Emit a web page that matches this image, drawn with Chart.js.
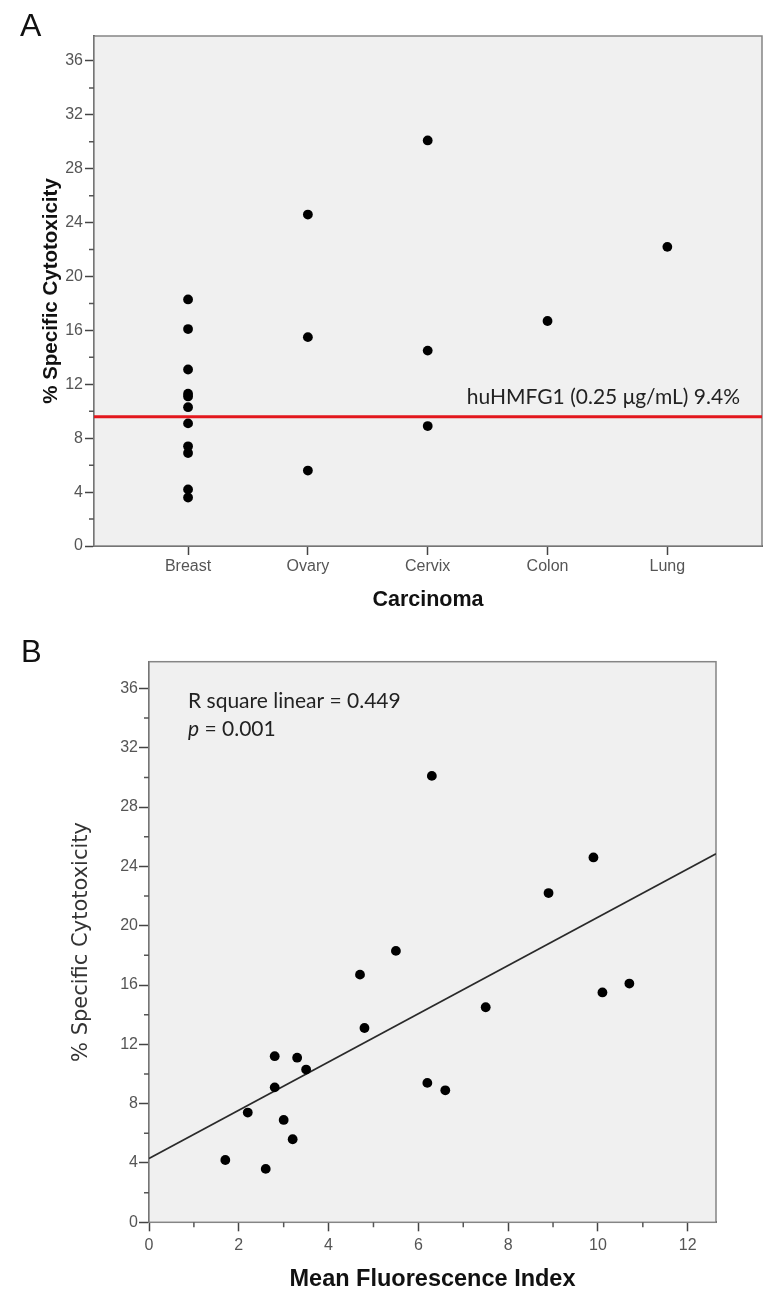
<!DOCTYPE html>
<html><head><meta charset="utf-8">
<script src="https://cdn.jsdelivr.net/npm/chart.js@4.4.1/dist/chart.umd.min.js"></script>
<style>
html,body{margin:0;padding:0;background:#fff;}
#wrapA{position:absolute;left:0;top:0;width:782px;height:620px;}
#wrapB{position:absolute;left:0;top:620px;width:782px;height:686px;}
</style></head><body>
<div id="wrapA"><canvas id="cA" width="782" height="620"></canvas></div>
<div id="wrapB"><canvas id="cB" width="782" height="686"></canvas></div>
<script>
// ---------- Panel A data ----------
const categories = ['Breast', 'Ovary', 'Cervix', 'Colon', 'Lung'];
const breastValues = [18.3, 16.1, 13.1, 11.3, 11.1, 10.3, 9.1, 7.4, 6.9, 4.2, 3.6];
const ovaryValues = [24.6, 15.5, 5.6];
const cervixValues = [30.1, 14.5, 8.9];
const colonValues = [16.7];
const lungValues = [22.2];
const referenceLevel = 9.6;
const referenceLabel = 'huHMFG1 (0.25 \u03bcg/mL) 9.4%';
const yTickValues = [0, 4, 8, 12, 16, 20, 24, 28, 32, 36];
const yMinorTickValues = [2, 6, 10, 14, 18, 22, 26, 30, 34];

// ---------- Panel B data ----------
const mfiValues = [1.7, 2.6, 2.2, 2.8, 2.8, 3.0, 3.2, 3.3, 3.5, 4.7, 4.8, 5.5, 6.2, 6.6, 7.5, 10.1, 10.7, 6.3, 9.9, 8.9];
const cytotoxValues = [4.2, 3.6, 7.4, 9.1, 11.2, 6.9, 5.6, 11.1, 10.3, 16.7, 13.1, 18.3, 9.4, 8.9, 14.5, 15.5, 16.1, 30.1, 24.6, 22.2];
const fitLineX = [0, 12.63];
const fitLineY = [4.3, 24.85];
const xTickValuesB = [0, 2, 4, 6, 8, 10, 12];
const xMinorTickValuesB = [1, 3, 5, 7, 9, 11];
const statText1 = 'R square linear = 0.449';
const statText2 = ' = 0.001';

const categorySeries = [breastValues, ovaryValues, cervixValues, colonValues, lungValues];

const TICK_FONT = "'Liberation Sans', Arial, sans-serif";

const frame = {
  id: 'frame',
  beforeDatasetsDraw(chart) {
    const {ctx, chartArea: a} = chart;
    ctx.save();
    ctx.fillStyle = '#f0f0f0';
    ctx.fillRect(a.left, a.top, a.right - a.left, a.bottom - a.top);
    ctx.strokeStyle = '#858585';
    ctx.lineWidth = 1.5;
    ctx.strokeRect(a.left, a.top, a.right - a.left, a.bottom - a.top);
    ctx.restore();
  }
};

function minorTicksPlugin(xMinor, yMinor, len) {
  return {
    id: 'minorTicks',
    afterDraw(chart) {
      const {ctx, scales: {x, y}} = chart;
      ctx.save();
      ctx.strokeStyle = '#555';
      ctx.lineWidth = 1.5;
      ctx.beginPath();
      (xMinor || []).forEach(v => {
        const px = x.getPixelForValue(v);
        ctx.moveTo(px, x.top); ctx.lineTo(px, x.top + len);
      });
      (yMinor || []).forEach(v => {
        const py = y.getPixelForValue(v);
        ctx.moveTo(y.right, py); ctx.lineTo(y.right - len, py);
      });
      ctx.stroke();
      ctx.restore();
    }
  };
}

// ---------- Chart A ----------
const pointsA = [];
categorySeries.forEach((vals, i) => vals.forEach(v => pointsA.push({x: i, y: v})));

const xMinA = -0.785, xMaxA = 4.79;

const textA = {
  id: 'textA',
  afterDraw(chart) {
    const {ctx, chartArea: a, scales: {y}} = chart;
    ctx.save();
    ctx.fillStyle = '#111';
    ctx.font = "32px 'Liberation Sans', Arial, sans-serif";
    ctx.textAlign = 'left';
    ctx.textBaseline = 'alphabetic';
    ctx.fillText('A', 20, 36);
    ctx.font = "21px Lato, sans-serif";
    ctx.fillStyle = '#222';
    ctx.textAlign = 'right';
    ctx.fillText(referenceLabel, a.right - 22, y.getPixelForValue(referenceLevel) - 13);
    ctx.restore();
  }
};

new Chart(document.getElementById('cA'), {
  type: 'scatter',
  data: {
    datasets: [
      {
        data: pointsA,
        pointRadius: 4.9,
        pointBackgroundColor: '#000',
        pointBorderWidth: 0,
        order: 1
      },
      {
        data: [{x: xMinA, y: referenceLevel}, {x: xMaxA, y: referenceLevel}],
        showLine: true,
        borderColor: '#e3171d',
        borderWidth: 3,
        pointRadius: 0,
        order: 0
      }
    ]
  },
  options: {
    responsive: false,
    animation: false,
    events: [],
    layout: {padding: {top: 36, right: 20, left: 0, bottom: 0}},
    plugins: {legend: {display: false}, tooltip: {enabled: false}},
    scales: {
      x: {
        type: 'linear', min: xMinA, max: xMaxA,
        afterBuildTicks: s => { s.ticks = categories.map((c, i) => ({value: i})); },
        afterFit: s => { s.height = 74; },
        ticks: {
          callback: v => categories[v] ?? '',
          font: {family: TICK_FONT, size: 16}, color: '#555', padding: 2,
          maxRotation: 0, autoSkip: false
        },
        grid: {drawOnChartArea: false, drawTicks: true, tickLength: 9, tickColor: '#444', tickWidth: 1.5},
        border: {color: '#444', width: 2},
        title: {display: true, text: 'Carcinoma', color: '#111',
          font: {family: TICK_FONT, size: 21.5, weight: 'bold'}, padding: {bottom: 7}}
      },
      y: {
        min: 0, max: 37.85,
        afterBuildTicks: s => { s.ticks = yTickValues.map(v => ({value: v})); },
        afterFit: s => { s.width = 94; },
        ticks: {font: {family: TICK_FONT, size: 16}, color: '#555', padding: 2},
        grid: {drawOnChartArea: false, drawTicks: true, tickLength: 9, tickColor: '#444', tickWidth: 1.5},
        border: {color: '#444', width: 2},
        title: {display: true, text: '% Specific Cytotoxicity', color: '#111',
          font: {family: TICK_FONT, size: 20.5, weight: 'bold'}, padding: {top: 39}}
      }
    }
  },
  plugins: [frame, minorTicksPlugin(null, yMinorTickValues, 5), textA]
});

// ---------- Chart B ----------
const pointsB = mfiValues.map((x, i) => ({x, y: cytotoxValues[i]}));
const fitPoints = fitLineX.map((x, i) => ({x, y: fitLineY[i]}));

const textB = {
  id: 'textB',
  afterDraw(chart) {
    const {ctx, chartArea: a} = chart;
    ctx.save();
    ctx.fillStyle = '#111';
    ctx.font = "31px 'Liberation Sans', Arial, sans-serif";
    ctx.textAlign = 'left';
    ctx.textBaseline = 'alphabetic';
    ctx.fillText('B', 21, 42);
    ctx.fillStyle = '#222';
    ctx.font = "21px Lato, sans-serif";
    const lx = a.left + 39;
    ctx.fillText(statText1, lx, a.top + 46);
    ctx.font = "italic 21px Lato, sans-serif";
    ctx.fillText('p', lx, a.top + 74);
    const w = ctx.measureText('p').width;
    ctx.font = "21px Lato, sans-serif";
    ctx.fillText(statText2, lx + w, a.top + 74);
    ctx.restore();
  }
};

new Chart(document.getElementById('cB'), {
  type: 'scatter',
  data: {
    datasets: [
      {
        data: pointsB,
        pointRadius: 4.9,
        pointBackgroundColor: '#000',
        pointBorderWidth: 0,
        order: 0
      },
      {
        data: fitPoints,
        showLine: true,
        borderColor: '#2a2a2a',
        borderWidth: 1.6,
        pointRadius: 0,
        order: 1
      }
    ]
  },
  options: {
    responsive: false,
    animation: false,
    events: [],
    layout: {padding: {top: 41.7, right: 66, left: 0, bottom: 0}},
    plugins: {legend: {display: false}, tooltip: {enabled: false}},
    scales: {
      x: {
        type: 'linear', min: 0, max: 12.63,
        afterBuildTicks: s => { s.ticks = xTickValuesB.map(v => ({value: v})); },
        afterFit: s => { s.height = 83.7; },
        ticks: {font: {family: TICK_FONT, size: 16}, color: '#555', padding: 5, maxRotation: 0, autoSkip: false},
        grid: {drawOnChartArea: false, drawTicks: true, tickLength: 9, tickColor: '#444', tickWidth: 1.5},
        border: {color: '#444', width: 2},
        title: {display: true, text: 'Mean Fluorescence Index', color: '#111',
          font: {family: TICK_FONT, size: 23.5, weight: 'bold'}, padding: {bottom: 12}}
      },
      y: {
        min: 0, max: 37.8,
        afterBuildTicks: s => { s.ticks = yTickValues.map(v => ({value: v})); },
        afterFit: s => { s.width = 149; },
        ticks: {font: {family: TICK_FONT, size: 16}, color: '#555', padding: 1},
        grid: {drawOnChartArea: false, drawTicks: true, tickLength: 10, tickColor: '#444', tickWidth: 1.5},
        border: {color: '#444', width: 2},
        title: {display: true, text: '% Specific Cytotoxicity', color: '#333',
          font: {family: "'DejaVu Sans', sans-serif", size: 21, weight: 'normal'}, padding: {top: 69}}
      }
    }
  },
  plugins: [frame, minorTicksPlugin(xMinorTickValuesB, yMinorTickValues, 5), textB]
});
</script>
</body></html>
